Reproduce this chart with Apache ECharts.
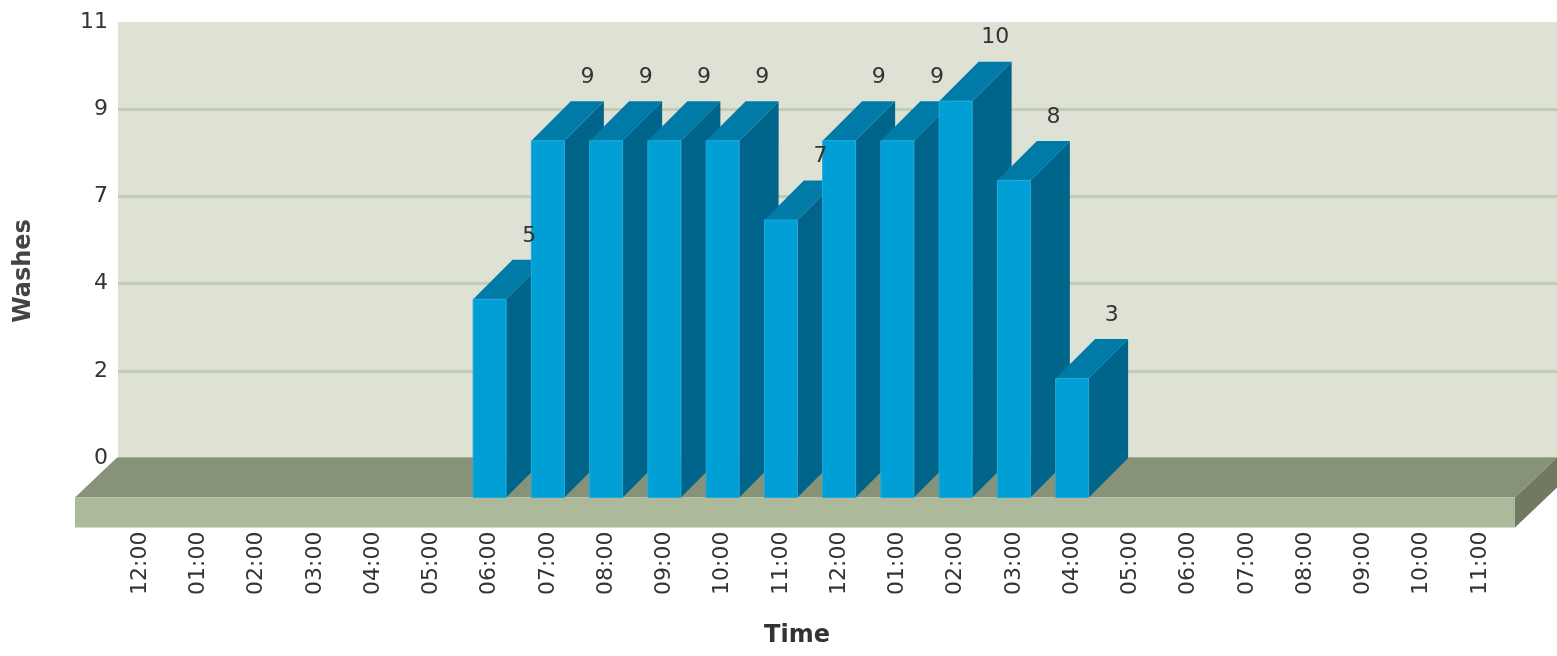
<!DOCTYPE html>
<html>
<head>
<meta charset="utf-8">
<script src="https://cdn.jsdelivr.net/npm/echarts@6/dist/echarts.min.js"></script>
<style>
html,body{margin:0;padding:0;background:#fff;}
#chart{width:1557px;height:656px;}
</style>
</head>
<body>
<div id="chart"></div>
<script>
const categories = ['12:00','01:00','02:00','03:00','04:00','05:00','06:00','07:00','08:00','09:00','10:00','11:00',
                    '12:00','01:00','02:00','03:00','04:00','05:00','06:00','07:00','08:00','09:00','10:00','11:00'];
const washes = [null,null,null,null,null,null,5,9,9,9,9,7,9,9,10,8,3,null,null,null,null,null,null,null];
const yTickLabels = ['0','2','4','7','9','11'];
const yMax = 11;
const yStep = 2.2;

const FONT = '"DejaVu Sans", Verdana, sans-serif';
const BAR_DEPTH = 39.5;
const FLOOR_DX = 42, FLOOR_DY = 40, FLOOR_THICK = 30;

const barData = [];
washes.forEach(function (v, i) { if (v !== null) barData.push([i, v]); });

const chart = echarts.init(document.getElementById('chart'), null, {renderer: 'canvas'});

function renderFloor(params, api) {
  const cs = params.coordSys;
  const yb = api.coord([0, 0])[1];
  const x0 = cs.x - 36, x1 = cs.x + cs.width + 6;
  return {
    type: 'group',
    children: [
      {type: 'polygon', shape: {points: [[x0, yb], [x1, yb], [x1 + FLOOR_DX, yb - FLOOR_DY], [x0 + FLOOR_DX, yb - FLOOR_DY]]},
       style: {fill: '#879378'}},
      {type: 'rect', shape: {x: x0, y: yb, width: x1 - x0, height: FLOOR_THICK}, style: {fill: '#adb99b'}},
      {type: 'polygon', shape: {points: [[x1, yb], [x1 + FLOOR_DX, yb - FLOOR_DY], [x1 + FLOOR_DX, yb - FLOOR_DY + FLOOR_THICK], [x1, yb + FLOOR_THICK]]},
       style: {fill: '#6f7a60'}}
    ]
  };
}

function renderBar(params, api) {
  const i = api.value(0), v = api.value(1);
  const top = api.coord([i, v]);
  const base = api.coord([i, 0]);
  const w = api.size([1, 0])[0] * 0.566;
  const x0 = top[0] - w / 2, x1 = top[0] + w / 2;
  const yt = top[1], yb = base[1];
  const D = BAR_DEPTH;
  return {
    type: 'group',
    children: [
      {type: 'polygon', shape: {points: [[x1, yt], [x1 + D, yt - D], [x1 + D, yb - D], [x1, yb]]}, style: {fill: '#00648b'}},
      {type: 'polygon', shape: {points: [[x0, yt], [x1, yt], [x1 + D, yt - D], [x0 + D, yt - D]]}, style: {fill: '#007ba8'}},
      {type: 'rect', shape: {x: x0, y: yt, width: w, height: yb - yt}, style: {fill: '#009fd6', stroke: '#22aadc', lineWidth: 1}},
      {type: 'text', x: top[0] + D, y: yt - D - 13, z2: 100,
       style: {text: String(v), align: 'center', verticalAlign: 'bottom', fontSize: 22, fontFamily: FONT, fill: '#333'}}
    ]
  };
}

const option = {
  animation: false,
  backgroundColor: '#ffffff',
  grid: [
    {left: 118, right: 0, top: 22, bottom: 198, show: true, backgroundColor: '#dde2d4', borderWidth: 0},
    {left: 111, right: 48, top: 61.5, bottom: 158.5}
  ],
  xAxis: [
    {gridIndex: 0, type: 'value', show: false, min: 0, max: 1},
    {gridIndex: 1, type: 'category', data: categories,
     axisLine: {show: false}, axisTick: {show: false}, splitLine: {show: false},
     axisLabel: {interval: 0, rotate: 90, margin: 34, fontSize: 22, color: '#333', fontFamily: FONT}}
  ],
  yAxis: [
    {gridIndex: 0, type: 'value', min: 0, max: yMax, interval: yStep,
     axisLine: {show: false}, axisTick: {show: false},
     axisLabel: {margin: 10, fontSize: 22, color: '#333', fontFamily: FONT,
                 formatter: function (val, idx) { return yTickLabels[idx]; }},
     splitLine: {show: true, showMaxLine: false, lineStyle: {color: '#c3ccb2', width: 3}}},
    {gridIndex: 1, type: 'value', min: 0, max: yMax, show: false}
  ],
  series: [
    {type: 'custom', xAxisIndex: 1, yAxisIndex: 1, data: [[0, 0]], renderItem: renderFloor, silent: true, z: 1, clip: false},
    {type: 'custom', xAxisIndex: 1, yAxisIndex: 1, data: barData, renderItem: renderBar, silent: true, z: 2, clip: false}
  ],
  graphic: [
    {type: 'text', x: 24, y: 271, rotation: Math.PI / 2,
     style: {text: 'Washes', align: 'center', verticalAlign: 'middle', font: 'bold 24px ' + FONT, fill: '#444'}},
    {type: 'text', x: 797, y: 636,
     style: {text: 'Time', align: 'center', verticalAlign: 'middle', font: 'bold 24px ' + FONT, fill: '#333'}}
  ]
};
chart.setOption(option);
</script>
</body>
</html>
